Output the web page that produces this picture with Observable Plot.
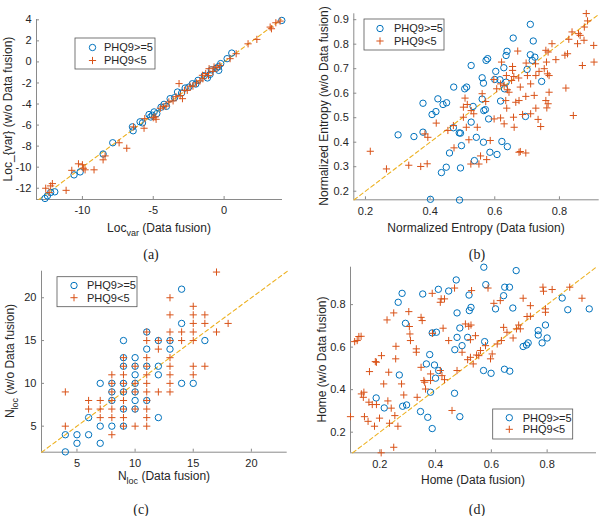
<!DOCTYPE html>
<html><head><meta charset="utf-8">
<script src="https://cdn.jsdelivr.net/npm/d3@7"></script>
<script src="https://cdn.jsdelivr.net/npm/@observablehq/plot@0.6"></script>
<style>
body{margin:0;background:#fff;}
#fig{position:relative;width:600px;height:516px;overflow:hidden;font-family:"Liberation Sans",Arial,sans-serif;}
.panel{position:absolute;}
.cap{position:absolute;font-family:"Liberation Serif","Times New Roman",serif;font-size:14px;color:#222;transform:translate(-50%,-50%);}
</style></head><body><div id="fig"></div><script>
// ---------- data ----------
const seriesNames = ["PHQ9>=5", "PHQ9<5"];
// (a) Loc_var
const aHigh = [[4.07,3.94],[0.54,0.84],[0.21,0.31],[-0.24,-0.16],[-0.4,-0.45],[-0.55,-0.6],[-0.38,-0.8],[-0.99,-1.18],[-0.9,-0.75],[-1.18,-1.52],[-1.4,-1.3],[-1.84,-1.75],[-2.0,-2.1],[-2.24,-2.07],[-2.5,-2.4],[-2.75,-2.48],[-3.0,-2.95],[-3.29,-2.86],[-3.5,-3.4],[-3.81,-3.49],[-4.07,-4.22],[-4.24,-4.03],[-4.45,-4.3],[-4.75,-4.91],[-5.06,-5.07],[-4.94,-4.75],[-5.18,-5.23],[-5.3,-5.0],[-5.76,-5.79],[-5.93,-5.69],[-6.47,-6.17],[-6.42,-6.54],[-7.86,-7.68],[-8.54,-8.75],[-10.16,-10.45],[-10.59,-10.73],[-11.95,-12.34],[-12.24,-12.4],[-12.47,-12.72],[-12.64,-12.97]];
const aLow = [[3.95,3.88],[3.65,3.72],[3.25,3.31],[3.34,3.15],[2.31,2.14],[1.69,1.72],[0.85,0.78],[0.42,0.31],[-0.3,-0.35],[-0.5,-0.55],[-0.71,-0.48],[-0.8,-0.9],[-1.06,-0.64],[-1.1,-1.3],[-1.3,-1.1],[-1.53,-1.27],[-1.5,-1.6],[-1.7,-1.8],[-1.95,-2.0],[-2.2,-2.3],[-2.4,-2.3],[-2.6,-2.7],[-2.8,-2.7],[-3.18,-2.06],[-2.94,-3.49],[-3.1,-3.2],[-3.4,-3.3],[-3.6,-3.7],[-3.9,-3.8],[-4.1,-4.2],[-4.3,-4.25],[-4.5,-4.4],[-4.87,-5.23],[-4.8,-5.45],[-5.0,-5.3],[-5.6,-5.39],[-5.65,-6.3],[-6.4,-6.17],[-7.41,-7.68],[-6.87,-8.2],[-8.4,-8.93],[-8.54,-9.3],[-9.18,-10.25],[-9.81,-10.25],[-10.0,-9.77],[-10.28,-9.68],[-9.93,-10.1],[-10.75,-10.3],[-11.15,-12.2],[-12.12,-11.56],[-12.24,-11.78],[-12.59,-12.0],[-12.35,-12.4]];
// (b) Normalized entropy
const bHigh = [[0.710,0.881],[0.657,0.825],[0.719,0.813],[0.638,0.771],[0.635,0.754],[0.710,0.757],[0.724,0.747],[0.716,0.734],[0.578,0.741],[0.573,0.734],[0.527,0.713],[0.628,0.704],[0.603,0.689],[0.700,0.697],[0.745,0.648],[0.600,0.656],[0.616,0.655],[0.635,0.645],[0.561,0.663],[0.565,0.641],[0.630,0.618],[0.473,0.625],[0.507,0.618],[0.513,0.625],[0.561,0.576],[0.618,0.568],[0.424,0.577],[0.451,0.561],[0.440,0.554],[0.378,0.559],[0.418,0.525],[0.406,0.513],[0.533,0.546],[0.566,0.529],[0.571,0.533],[0.527,0.482],[0.581,0.495],[0.695,0.505],[0.472,0.459],[0.378,0.441],[0.301,0.430],[0.350,0.423],[0.490,0.438],[0.494,0.437],[0.543,0.420],[0.565,0.400],[0.497,0.386],[0.622,0.403],[0.639,0.382],[0.460,0.356],[0.585,0.359],[0.607,0.350],[0.537,0.325],[0.450,0.298],[0.435,0.276],[0.494,0.295],[0.401,0.167],[0.491,0.164]];
const bLow = [[0.883,0.925],[0.887,0.895],[0.877,0.870],[0.839,0.850],[0.859,0.843],[0.864,0.836],[0.829,0.820],[0.876,0.816],[0.856,0.802],[0.906,0.795],[0.777,0.802],[0.758,0.775],[0.765,0.768],[0.671,0.772],[0.817,0.755],[0.825,0.761],[0.789,0.737],[0.760,0.727],[0.697,0.723],[0.726,0.720],[0.907,0.727],[0.871,0.713],[0.753,0.700],[0.737,0.689],[0.763,0.679],[0.768,0.672],[0.727,0.672],[0.701,0.672],[0.621,0.727],[0.655,0.709],[0.655,0.693],[0.597,0.656],[0.636,0.672],[0.652,0.652],[0.659,0.668],[0.674,0.662],[0.618,0.638],[0.629,0.632],[0.639,0.614],[0.606,0.618],[0.644,0.604],[0.679,0.625],[0.711,0.638],[0.768,0.604],[0.820,0.621],[0.696,0.587],[0.722,0.591],[0.675,0.570],[0.634,0.570],[0.665,0.563],[0.637,0.539],[0.727,0.539],[0.758,0.570],[0.761,0.540],[0.765,0.557],[0.711,0.516],[0.686,0.513],[0.734,0.493],[0.658,0.502],[0.618,0.499],[0.629,0.475],[0.598,0.495],[0.843,0.509],[0.742,0.464],[0.660,0.461],[0.508,0.580],[0.515,0.554],[0.503,0.543],[0.527,0.529],[0.535,0.516],[0.503,0.502],[0.561,0.598],[0.572,0.566],[0.546,0.461],[0.512,0.461],[0.455,0.448],[0.419,0.478],[0.472,0.468],[0.384,0.434],[0.393,0.420],[0.474,0.377],[0.520,0.410],[0.586,0.407],[0.556,0.344],[0.526,0.311],[0.551,0.311],[0.575,0.329],[0.675,0.359],[0.679,0.362],[0.696,0.356],[0.215,0.363],[0.265,0.291],[0.334,0.306],[0.371,0.301],[0.391,0.312]];
// (c) N_loc
const cHigh = [[4,2],[4,4],[5,4],[5,3],[6,4],[6,6],[7,3],[7,5],[7,10],[8,5],[8,8],[8,9],[8,10],[9,5],[9,7],[9,9],[9,10],[9,12],[9,13],[9,15],[10,7],[10,8],[10,9],[10,10],[10,11],[10,12],[10,13],[11,8],[11,12],[11,14],[11,16],[12,6],[12,11],[12,12],[12,15],[13,14],[13,15],[14,10],[14,17],[14,21],[15,10],[16,15]];
const cLow = [[4,5],[4,9],[6,7],[6,8],[7,6],[7,7],[7,8],[8,4],[8,6],[8,7],[8,8],[8,9],[8,10],[8,11],[9,5],[9,6],[9,7],[9,8],[9,9],[9,10],[9,11],[9,12],[9,13],[10,5],[10,7],[10,9],[10,10],[10,12],[11,5],[11,6],[11,7],[11,8],[11,9],[11,10],[11,11],[11,12],[11,13],[11,15],[11,16],[12,9],[12,14],[12,15],[13,9],[13,10],[13,11],[13,12],[13,13],[13,15],[13,16],[13,18],[13,20],[14,15],[14,16],[15,11],[15,12],[15,15],[15,16],[15,17],[15,18],[15,19],[16,12],[16,17],[16,18],[17,16],[17,23],[18,17]];
// (d) Home
const dHigh = [[0.573,0.976],[0.689,0.960],[0.474,0.916],[0.580,0.894],[0.280,0.853],[0.410,0.872],[0.447,0.864],[0.354,0.850],[0.648,0.882],[0.665,0.882],[0.644,0.842],[0.520,0.845],[0.266,0.811],[0.527,0.787],[0.521,0.772],[0.477,0.761],[0.615,0.780],[0.677,0.784],[0.854,0.831],[0.874,0.776],[0.951,0.780],[0.292,0.712],[0.487,0.690],[0.388,0.667],[0.403,0.670],[0.477,0.646],[0.515,0.646],[0.495,0.607],[0.576,0.626],[0.469,0.588],[0.379,0.565],[0.367,0.521],[0.396,0.516],[0.411,0.490],[0.400,0.454],[0.270,0.469],[0.572,0.490],[0.599,0.477],[0.666,0.487],[0.647,0.496],[0.794,0.704],[0.768,0.678],[0.768,0.657],[0.800,0.643],[0.782,0.620],[0.732,0.620],[0.714,0.603],[0.726,0.610],[0.187,0.361],[0.216,0.314],[0.282,0.322],[0.296,0.328],[0.346,0.297],[0.372,0.270],[0.388,0.217],[0.468,0.383],[0.382,0.388],[0.487,0.273]];
const dLow = [[0.095,0.273],[0.110,0.626],[0.119,0.631],[0.125,0.650],[0.133,0.651],[0.163,0.485],[0.184,0.532],[0.188,0.529],[0.206,0.560],[0.226,0.728],[0.250,0.761],[0.258,0.604],[0.257,0.545],[0.232,0.482],[0.214,0.427],[0.134,0.380],[0.143,0.388],[0.141,0.364],[0.145,0.273],[0.158,0.251],[0.161,0.341],[0.173,0.330],[0.188,0.330],[0.199,0.266],[0.181,0.228],[0.205,0.103],[0.250,0.129],[0.229,0.347],[0.241,0.313],[0.254,0.278],[0.265,0.228],[0.235,0.242],[0.278,0.427],[0.286,0.375],[0.304,0.767],[0.306,0.697],[0.308,0.662],[0.310,0.631],[0.331,0.592],[0.331,0.576],[0.334,0.364],[0.348,0.740],[0.352,0.725],[0.348,0.505],[0.358,0.443],[0.361,0.435],[0.364,0.403],[0.382,0.443],[0.388,0.853],[0.389,0.665],[0.382,0.474],[0.417,0.811],[0.420,0.827],[0.432,0.827],[0.427,0.689],[0.417,0.490],[0.423,0.466],[0.432,0.447],[0.447,0.631],[0.459,0.302],[0.468,0.878],[0.477,0.490],[0.495,0.576],[0.507,0.709],[0.519,0.698],[0.527,0.704],[0.529,0.866],[0.525,0.635],[0.543,0.654],[0.515,0.541],[0.525,0.552],[0.535,0.521],[0.547,0.563],[0.555,0.560],[0.561,0.584],[0.579,0.607],[0.588,0.878],[0.597,0.545],[0.603,0.568],[0.621,0.615],[0.609,0.806],[0.632,0.819],[0.636,0.631],[0.644,0.693],[0.656,0.670],[0.678,0.643],[0.690,0.686],[0.698,0.704],[0.704,0.686],[0.714,0.830],[0.728,0.744],[0.740,0.795],[0.740,0.745],[0.785,0.882],[0.787,0.863],[0.818,0.871],[0.794,0.780],[0.881,0.882],[0.925,0.830],[0.794,0.764]];
// tick values
const aTicksX = [-10,-5,0], aTicksY = [-12,-10,-8,-6,-4,-2,0,2,4];
const bTicksX = [0.2,0.4,0.6,0.8], bTicksY = [0.2,0.3,0.4,0.5,0.6,0.7,0.8,0.9];
const cTicksX = [5,10,15,20], cTicksY = [5,10,15,20];
const dTicksX = [0.2,0.4,0.6,0.8], dTicksY = [0.2,0.4,0.6,0.8];
// domains (axis limits)
const aDomX = [-13.24,4.12], aDomY = [-13.07,4.03];
const bDomX = [0.164,0.923], bDomY = [0.165,0.924];
const cDomX = [1.95,23.08], cDomY = [1.96,23.1];
const dDomX = [0.095,0.977], dDomY = [0.103,0.976];
const captions = ["(a)","(b)","(c)","(d)"];

// ---------- drawing ----------
const BLUE = "#0072BD", RED = "#D95319", YEL = "#EDB120", AX = "#8a8a8a", TXT = "#262626";
const FONT = "'Liberation Sans', Arial, sans-serif";
const plusSym = {draw(ctx, size){const r = Math.sqrt(size/Math.PI); ctx.moveTo(-r,0); ctx.lineTo(r,0); ctx.moveTo(0,-r); ctx.lineTo(0,r);}};
const fig = document.getElementById("fig");

function panel(cfg){
  const {left, top, w, h, mL, mR, mT, mB, xd, yd, xt, yt, fmt, hi, lo} = cfg;
  const fw = w - mL - mR, fh = h - mT - mB;
  const lo2 = Math.max(xd[0], yd[0]), hi2 = Math.min(xd[1], yd[1]);
  const svg = Plot.plot({
    width: w, height: h, marginLeft: mL, marginRight: mR, marginTop: mT, marginBottom: mB,
    style: {fontFamily: FONT, fontSize: "11px", color: TXT, background: "transparent"},
    x: {domain: xd, ticks: xt},
    y: {domain: yd, ticks: yt},
    marks: [
      Plot.axisX(xt, {tickSize: 0, tickPadding: 7, tickFormat: fmt, label: null, fontSize: 11}),
      Plot.axisY(yt, {tickSize: 0, tickPadding: 5, tickFormat: fmt, label: null, fontSize: 11}),
      Plot.ruleY([yd[0]], {stroke: AX}),
      Plot.ruleX([xd[0]], {stroke: AX}),
      Plot.tickX(xt, {x: d => d, stroke: AX, insetTop: fh - 3}),
      Plot.tickY(yt, {y: d => d, stroke: AX, insetRight: fw - 3}),
      Plot.line([[lo2, lo2], [hi2, hi2]], {x: d => d[0], y: d => d[1], stroke: YEL, strokeWidth: 1.1, strokeDasharray: "4,3"}),
      Plot.dot(hi, {x: d => d[0], y: d => d[1], r: 3.2, stroke: BLUE, strokeWidth: 1, fill: "none", symbol: "circle"}),
      Plot.dot(lo, {x: d => d[0], y: d => d[1], r: 3.6, stroke: RED, strokeWidth: 1, fill: "none", symbol: plusSym})
    ]
  });
  svg.classList.add("panel");
  svg.style.left = left + "px"; svg.style.top = top + "px";
  fig.appendChild(svg);
  const s = d3.select(svg);
  // x label
  const xl = s.append("text").attr("x", cfg.xlx).attr("y", cfg.xly).attr("text-anchor", "middle")
    .attr("fill", TXT).attr("font-size", 12).attr("font-family", FONT);
  cfg.xlabel.forEach(([t, sub], i) => xl.append("tspan").text(t).attr("font-size", sub ? 9 : 12).attr("dy", sub ? 4 : (i > 0 ? -4 : 0)));
  // y label
  const yl = s.append("text").attr("transform", `translate(${cfg.ylx},${cfg.yly}) rotate(-90)`).attr("text-anchor", "middle")
    .attr("fill", TXT).attr("font-size", 12).attr("font-family", FONT);
  cfg.ylabel.forEach(([t, sub], i) => yl.append("tspan").text(t).attr("font-size", sub ? 9 : 12).attr("dy", sub ? 4 : (i > 0 ? -4 : 0)));
  // legend
  const L = cfg.leg;
  const g = s.append("g").attr("text-anchor", "start");
  g.append("rect").attr("x", L.x).attr("y", L.y).attr("width", 80).attr("height", L.h).attr("fill", "#fff").attr("stroke", "#555").attr("stroke-width", 0.8);
  g.append("circle").attr("cx", L.mx).attr("cy", L.r1).attr("r", 3.2).attr("fill", "none").attr("stroke", BLUE);
  g.append("path").attr("d", `M${L.mx-3.6},${L.r2}h7.2M${L.mx},${L.r2-3.6}v7.2`).attr("stroke", RED).attr("fill", "none");
  [L.r1, L.r2].forEach((yy, i) => g.append("text").attr("x", L.tx).attr("y", yy).attr("dy", "0.36em").attr("text-anchor", "start")
    .attr("fill", TXT).attr("font-size", 11).attr("font-family", FONT).text(seriesNames[i]));
}

const f1 = d => String(d), f2 = d3.format(".1f");
panel({left: 0, top: 0, w: 300, h: 245, mL: 36, mR: 18, mT: 19, mB: 46, xd: aDomX, yd: aDomY, xt: aTicksX, yt: aTicksY, fmt: f1, hi: aHigh, lo: aLow,
  xlabel: [["Loc"], ["var", 1], [" (Data fusion)"]], xlx: 159, xly: 232,
  ylabel: [["Loc_{var} (w/o Data fusion)"]], ylx: 12, yly: 109,
  leg: {x: 75, y: 38, h: 31, mx: 92.5, r1: 47.5, r2: 60.5, tx: 104}});
panel({left: 300, top: 0, w: 300, h: 245, mL: 53.3, mR: 1.3, mT: 13.3, mB: 45.7, xd: bDomX, yd: bDomY, xt: bTicksX, yt: bTicksY, fmt: f2, hi: bHigh, lo: bLow,
  xlabel: [["Normalized Entropy (Data fusion)"]], xlx: 176, xly: 232,
  ylabel: [["Normalized Entropy (w/o Data fusion)"]], ylx: 28, yly: 106,
  leg: {x: 64, y: 19, h: 31, mx: 80, r1: 28.5, r2: 41, tx: 94}});
panel({left: 0, top: 255, w: 300, h: 245, mL: 41, mR: 13.3, mT: 15.7, mB: 48.3, xd: cDomX, yd: cDomY, xt: cTicksX, yt: cTicksY, fmt: f1, hi: cHigh, lo: cLow,
  xlabel: [["N"], ["loc", 1], [" (Data fusion)"]], xlx: 164, xly: 225,
  ylabel: [["N"], ["loc", 1], [" (w/o Data fusion)"]], ylx: 14, yly: 106,
  leg: {x: 57, y: 21.7, h: 30, mx: 74, r1: 30.5, r2: 42.7, tx: 87}});
panel({left: 300, top: 255, w: 300, h: 245, mL: 50, mR: 4, mT: 11.7, mB: 47.7, xd: dDomX, yd: dDomY, xt: dTicksX, yt: dTicksY, fmt: f2, hi: dHigh, lo: dLow,
  xlabel: [["Home (Data fusion)"]], xlx: 173, xly: 229,
  ylabel: [["Home (w/o Data fusion)"]], ylx: 26, yly: 104.5,
  leg: {x: 192.7, y: 154, h: 30, mx: 209.3, r1: 162.7, r2: 174.3, tx: 222.7}});

const capPos = [[151,255],[477,255],[141,510],[477,510]];
captions.forEach((c, i) => {
  const d = document.createElement("div"); d.className = "cap"; d.textContent = c;
  d.style.left = capPos[i][0] + "px"; d.style.top = capPos[i][1] + "px"; fig.appendChild(d);
});
</script></body></html>
